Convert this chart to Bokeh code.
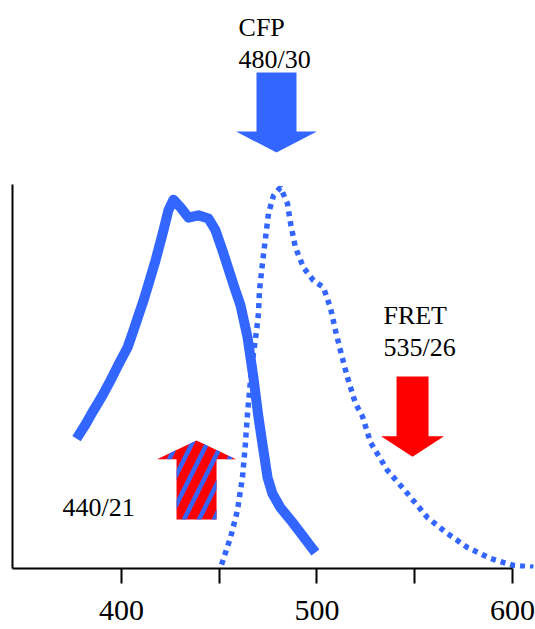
from bokeh.plotting import figure
from bokeh.models import Range1d, FixedTicker
from bokeh.core.properties import value
from bokeh.embed import file_html
from bokeh.resources import INLINE

# ---- data ----
# CFP excitation spectrum (solid curve)
exc_nm = [377.0, 381.6, 385.7, 390.3, 394.4, 398.5, 403.1, 406.1, 408.7, 411.3,
          413.8, 417.4, 421.5, 424.0, 426.6, 430.2, 434.3, 439.4, 444.5, 448.1,
          451.7, 455.8, 458.3, 460.9, 464.5, 467.5, 470.1, 472.1, 474.7, 477.2,
          481.3, 488.0, 499.2]
exc_val = [0.339, 0.376, 0.413, 0.452, 0.491, 0.533, 0.577, 0.621, 0.661, 0.700,
           0.742, 0.804, 0.883, 0.935, 0.963, 0.943, 0.916, 0.922, 0.914, 0.883,
           0.830, 0.765, 0.726, 0.687, 0.603, 0.499, 0.394, 0.326, 0.238, 0.196,
           0.159, 0.117, 0.042]

# CFP emission spectrum (dotted curve)
em_nm = [451.2, 455.8, 459.3, 461.9, 463.4, 464.5, 466.0, 467.5, 469.1, 470.1,
         470.6, 472.1, 473.7, 475.2, 477.8, 481.3, 484.9, 486.5, 489.0, 493.1,
         498.2, 503.3, 506.9, 509.5, 512.0, 515.6, 519.7, 523.3, 527.4, 536.1,
         546.3, 556.5, 566.8, 577.0, 588.8, 600.5, 610.7]
em_val = [0.010, 0.081, 0.151, 0.238, 0.326, 0.407, 0.491, 0.561, 0.621, 0.668,
          0.726, 0.796, 0.864, 0.927, 0.974, 0.995, 0.953, 0.901, 0.838, 0.786,
          0.752, 0.734, 0.681, 0.621, 0.569, 0.499, 0.431, 0.397, 0.329, 0.256,
          0.196, 0.133, 0.091, 0.055, 0.026, 0.008, 0.003]

tick_values = [400, 450, 500, 550, 600]
tick_labels = ["400", "", "500", "", "600"]

filter_names = ["CFP", "FRET", ""]
filter_bands = ["480/30", "535/26", "440/21"]

BLUE = "#3366FF"
RED = "#FF0000"
FONT = value("Liberation Serif")

X0, X1 = 344.25, 611.8
Y0, Y1 = 0.0, 1.483

p = figure(width=535, height=629, output_backend="svg", toolbar_location=None,
           x_range=Range1d(X0, X1), y_range=Range1d(Y0, Y1),
           min_border_left=12, min_border_right=0, min_border_top=0, min_border_bottom=61)
p.outline_line_color = None
p.grid.visible = False
p.background_fill_color = "white"
p.border_fill_color = "white"

# x axis
xa = p.xaxis[0]
xa.ticker = FixedTicker(ticks=tick_values)
xa.major_label_overrides = {v: l for v, l in zip(tick_values, tick_labels)}
xa.bounds = (X0, 600)
xa.axis_line_width = 2
xa.axis_line_color = "black"
xa.major_tick_line_width = 2
xa.major_tick_line_color = "black"
xa.major_tick_in = 0
xa.major_tick_out = 15
xa.minor_tick_line_color = None
xa.major_label_text_font = "Liberation Serif"
xa.major_label_text_font_size = "30px"
xa.major_label_text_color = "black"
xa.major_label_standoff = 17

# y axis: bare line only
ya = p.yaxis[0]
ya.ticker = FixedTicker(ticks=[])
ya.bounds = (0, 1.003)
ya.axis_line_width = 2
ya.axis_line_color = "black"
ya.major_tick_line_color = None
ya.minor_tick_line_color = None
ya.major_tick_in = 0
ya.major_tick_out = 0
ya.major_label_standoff = 0

# spectra
p.line(exc_nm, exc_val, line_color=BLUE, line_width=10, line_join="round", line_cap="butt")
p.line(em_nm, em_val, line_color=BLUE, line_width=5.5, line_dash="5 5", line_cap="butt")


def block_arrow(cx, tail, base, tip, shaft_half, head_half):
    xs = [cx - shaft_half, cx + shaft_half, cx + shaft_half, cx + head_half, cx,
          cx - head_half, cx - shaft_half]
    ys = [tail, tail, base, base, tip, base, base]
    return xs, ys


# CFP emission filter arrow
xs, ys = block_arrow(479.3, 1.295, 1.141, 1.086, 10.23, 20.7)
p.patch(xs, ys, fill_color=BLUE, line_color=None)
# FRET emission filter arrow
xs, ys = block_arrow(548.9, 0.501, 0.345, 0.292, 8.18, 16.1)
p.patch(xs, ys, fill_color=RED, line_color=None)
# excitation filter arrow (striped)
xs, ys = block_arrow(438.4, 0.128, 0.285, 0.334, 10.23, 20.2)
p.patch(xs, ys, fill_color=RED, line_color=None, hatch_pattern="/",
        hatch_color=BLUE, hatch_scale=30, hatch_weight=4.5)

# filter labels
p.text(x=[459.9, 459.9], y=[1.4125, 1.329], text=[filter_names[0], filter_bands[0]],
       text_font=FONT, text_font_size="26px", text_color="black",
       text_align="left", text_baseline="alphabetic")
p.text(x=[534.0, 534.0], y=[0.661, 0.577], text=[filter_names[1], filter_bands[1]],
       text_font=FONT, text_font_size="26px", text_color="black",
       text_align="left", text_baseline="alphabetic")
p.text(x=[369.8], y=[0.159], text=[filter_bands[2]],
       text_font=FONT, text_font_size="26px", text_color="black",
       text_align="left", text_baseline="alphabetic")

open("out.html", "w").write(file_html(p, INLINE))
